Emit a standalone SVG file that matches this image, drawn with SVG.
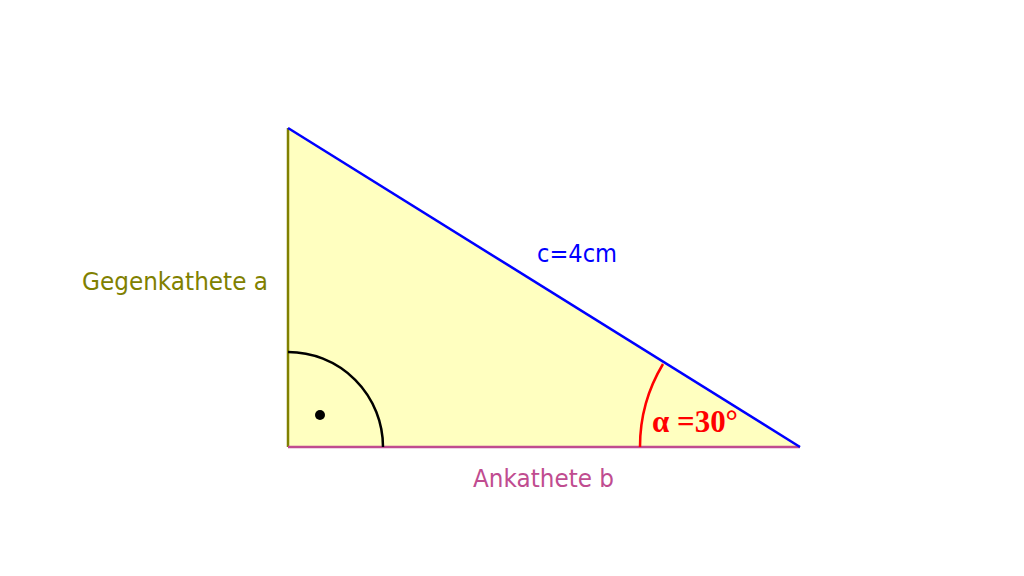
<svg xmlns="http://www.w3.org/2000/svg" width="1024" height="576" viewBox="0 0 1024 576">
<style>
.lbl{font-family:"DejaVu Sans","Liberation Sans",sans-serif;font-size:25px}
.ang{font-family:"Liberation Serif","Times New Roman",serif;font-size:31px;font-weight:bold;fill:#ff0000}
</style>
<rect width="1024" height="576" fill="#ffffff"/>
<g id="triangle">
<polygon points="288,128 288,447 800,447" fill="#ffffc0" stroke="none"/>
</g>
<g id="connectors" fill="none" stroke-width="2.5">
<line x1="288" y1="128" x2="288" y2="447" stroke="#808000"/>
<line x1="288" y1="447" x2="800" y2="447" stroke="#c04c90"/>
<line x1="288" y1="128" x2="800" y2="447" stroke="#0000ff"/>
</g>
<g id="right-angle">
<path d="M288,352 A95,95 0 0 1 383,447" fill="none" stroke="#000000" stroke-width="2.5"/>
<circle cx="320" cy="415" r="5" fill="#000000"/>
</g>
<g id="alpha">
<path d="M640,447 A160,160 0 0 1 663,364" fill="none" stroke="#ff0000" stroke-width="2.5"/>
<text class="ang" x="652" y="432" textLength="86" lengthAdjust="spacingAndGlyphs">α =30°</text>
</g>
<g id="labels">
<text class="lbl" x="82" y="290" fill="#808000" textLength="186" lengthAdjust="spacingAndGlyphs">Gegenkathete a</text>
<text class="lbl" x="473" y="487" fill="#c04c90" textLength="141" lengthAdjust="spacingAndGlyphs">Ankathete b</text>
<text class="lbl" x="537" y="262" fill="#0000ff" textLength="80" lengthAdjust="spacingAndGlyphs">c=4cm</text>
</g>
</svg>
